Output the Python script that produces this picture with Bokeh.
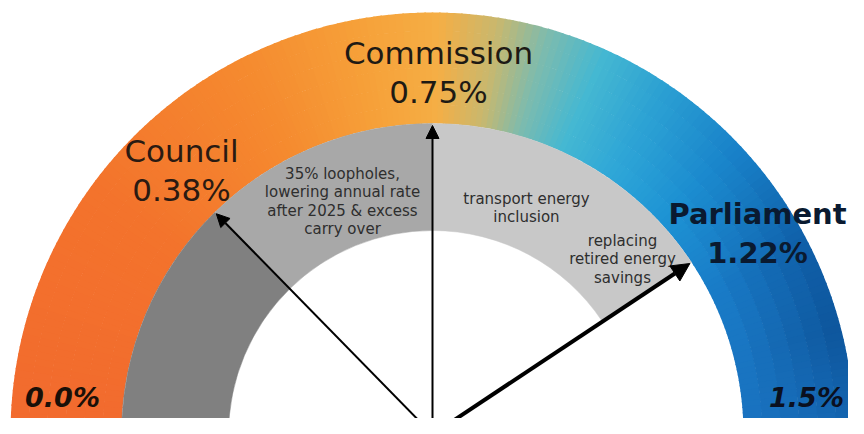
import numpy as np
from bokeh.plotting import figure
from bokeh.models import Range1d, Arrow, NormalHead
from bokeh.core.properties import value
from bokeh.embed import file_html
from bokeh.resources import INLINE

# ---------------- data ----------------
scale_min = 0.0
scale_max = 1.5
scale_labels = ["0.0%", "1.5%"]
positions = ["Council", "Commission", "Parliament"]
rates = [0.38, 0.75, 1.22]
rate_labels = ["0.38%", "0.75%", "1.22%"]
gap_starts = [0.0, 0.38, 0.75]
gap_ends = [0.38, 0.75, 1.22]
gap_colors = ["#808080", "#A8A8A8", "#C8C8C8"]
notes = [
    ["35% loopholes,", "lowering annual rate", "after 2025 & excess", "carry over"],
    ["transport energy", "inclusion"],
    ["replacing", "retired energy", "savings"],
]

# colour ramp of the outer band (fraction of scale -> colour), inner and outer edge
ramp_f_inner = [0.0, 0.2, 0.35, 0.45, 0.505, 0.55, 0.59, 0.635, 0.69, 0.76, 0.85, 1.0]
ramp_c_inner = ["#F26A2E", "#F3732C", "#F58A2F", "#F6A23A", "#F5AE45", "#C9B86E",
                "#7DBBAE", "#45B8D2", "#30A8D8", "#1E95D5", "#1A7ECA", "#1A72C0"]
ramp_f_outer = [0.0, 0.2, 0.35, 0.45, 0.505, 0.55, 0.59, 0.635, 0.69, 0.76, 0.85, 0.92, 1.0]
ramp_c_outer = ["#F26A2E", "#F3732C", "#F58A2F", "#F6A23A", "#F5AE45", "#C9B86E",
                "#7DBBAE", "#45B8D2", "#2A9ED2", "#1880C8", "#0E5CA5", "#0D549A", "#1466B2"]

# ---------------- layout ----------------
CX, CY = 432, 0
R_WHITE, R_GREY, R_OUT = 204, 311, 422
FONT = "DejaVu Sans"


def hex2rgb(h):
    h = h.lstrip("#")
    return np.array([int(h[i:i + 2], 16) for i in (0, 2, 4)], dtype=float)


def ramp(fs, cs, f):
    arr = np.array([hex2rgb(c) for c in cs])
    return np.array([np.interp(f, fs, arr[:, k]) for k in range(3)])


def ang(v):
    return np.pi * (1 - (v - scale_min) / (scale_max - scale_min))


p = figure(width=848, height=418, x_range=Range1d(0, 848), y_range=Range1d(16, 434),
           output_backend="svg", toolbar_location=None, min_border=0)
p.axis.visible = False
p.grid.visible = False
p.outline_line_color = None
p.background_fill_color = "white"
p.border_fill_color = "white"

# outer colour band
n_ang, n_rad = 180, 6
edges = np.linspace(0, 1, n_ang + 1)
rad_edges = np.linspace(R_GREY, R_OUT, n_rad + 1)
xs, ys, ir, orr, sa, ea, cols = [], [], [], [], [], [], []
for j in range(n_rad):
    t = (j + 0.5) / n_rad
    for i in range(n_ang):
        fm = (edges[i] + edges[i + 1]) / 2
        c = ramp(ramp_f_inner, ramp_c_inner, fm) * (1 - t) + ramp(ramp_f_outer, ramp_c_outer, fm) * t
        cols.append("#%02x%02x%02x" % tuple(int(round(v)) for v in c))
        xs.append(CX); ys.append(CY)
        ir.append(rad_edges[j]); orr.append(rad_edges[j + 1] + (0.5 if j < n_rad - 1 else 0))
        a0 = np.pi * (1 - edges[i + 1]); a1 = np.pi * (1 - edges[i])
        sa.append(a0 - 0.002); ea.append(a1 + 0.002)
p.annular_wedge(x=xs, y=ys, inner_radius=ir, outer_radius=orr, start_angle=sa, end_angle=ea,
                fill_color=cols, line_color=None)

# grey gap band
p.annular_wedge(x=[CX] * 3, y=[CY] * 3, inner_radius=R_WHITE, outer_radius=R_GREY,
                start_angle=[ang(e) for e in gap_ends], end_angle=[ang(s) for s in gap_starts],
                fill_color=gap_colors, line_color=gap_colors, line_width=0.5)

# arrows
widths = [2, 2, 4]
heads = [13, 13, 18]
for r, w, hs in zip(rates, widths, heads):
    a = ang(r)
    tip = R_GREY - 2
    p.add_layout(Arrow(end=NormalHead(size=hs, fill_color="black", line_color="black", line_width=1),
                       x_start=CX, y_start=CY, x_end=CX + tip * np.cos(a), y_end=CY + tip * np.sin(a),
                       line_width=w, line_color="black"))


def put_lines(x, y, lines, spacing, size, style, color):
    p.text(x=[x] * len(lines), y=[y - k * spacing for k in range(len(lines))], text=lines,
           text_align="center", text_baseline="middle", text_font=value(FONT),
           text_font_size=size, text_font_style=style, text_color=color)


# position labels
label_xy = [(181, 284), (438, 382), (757, 221)]
label_style = ["normal", "normal", "bold"]
label_color = ["#2a1a12", "#1e1a14", "#0a1a30"]
label_size = ["31px", "31px", "29px"]
for name, lab, (lx, ly), st, co, sz in zip(positions, rate_labels, label_xy, label_style, label_color, label_size):
    put_lines(lx, ly, [name, lab], 39, sz, st, co)

# scale end labels
put_lines(62, 37, [scale_labels[0]], 0, "27px", "bold italic", "#1a1008")
put_lines(806, 37, [scale_labels[1]], 0, "27px", "bold italic", "#0a1020")

# note texts in grey band
note_xy = [(342, 261), (526, 236), (622, 194)]
for lines, (nx, ny) in zip(notes, note_xy):
    put_lines(nx, ny, lines, 18.5, "15px", "normal", "#2e2e2e")

open("out.html", "w").write(file_html(p, INLINE))
